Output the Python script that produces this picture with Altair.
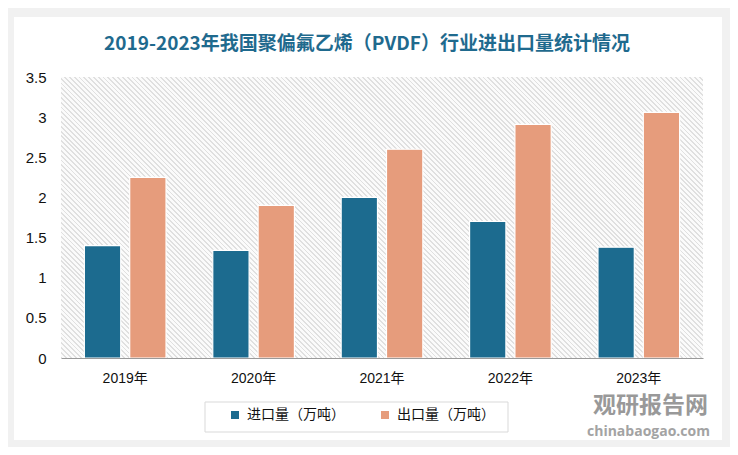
import altair as alt
import pandas as pd
import math

# ---- data ----
years = ["2019年", "2020年", "2021年", "2022年", "2023年"]
series = ["进口量（万吨）", "出口量（万吨）"]
imports = [1.40, 1.34, 2.00, 1.70, 1.38]
exports = [2.25, 1.90, 2.60, 2.91, 3.06]
title_text = "2019-2023年我国聚偏氟乙烯（PVDF）行业进出口量统计情况"
y_ticks = [0, 0.5, 1, 1.5, 2, 2.5, 3, 3.5]
colors = ["#1c6b8f", "#e69c7c"]

rows = []
for i, yr in enumerate(years):
    rows.append({"year": yr, "series": series[0], "value": imports[i]})
    rows.append({"year": yr, "series": series[1], "value": exports[i]})
df = pd.DataFrame(rows)

W, H = 642, 281
FONT = "Liberation Sans, Noto Sans CJK SC"

# hatched background via a striped linear gradient
r = H / W
k = (1 + r) / (1 + r * r)
L = (W + H) / math.sqrt(2)
period = 3.4
n = int(L / period) + 1
stops = []
for j in range(n):
    a = j * period / L
    b = (j * period + 1.3) / L
    c = (j + 1) * period / L
    if a > 1:
        break
    stops.append(alt.GradientStop(offset=min(a, 1), color="#e0e0e0"))
    stops.append(alt.GradientStop(offset=min(b, 1), color="#e0e0e0"))
    stops.append(alt.GradientStop(offset=min(b, 1), color="#fbfbfb"))
    stops.append(alt.GradientStop(offset=min(c, 1), color="#fbfbfb"))
grad = alt.LinearGradient(gradient="linear", x1=0, y1=1, x2=k, y2=1 - k * r, stops=stops)

one = pd.DataFrame({"a": [0]})

card = alt.Chart(one).mark_rect(fill="white").encode(
    x=alt.value(-47), x2=alt.value(661), y=alt.value(-60), y2=alt.value(363)
)
hatch = alt.Chart(one).mark_rect(fill=grad).encode(
    x=alt.value(0), x2=alt.value(W), y=alt.value(0), y2=alt.value(H)
)
legend_box = alt.Chart(one).mark_rect(fill="white", stroke="#d9d9d9", strokeWidth=1).encode(
    x=alt.value(144), x2=alt.value(447), y=alt.value(325), y2=alt.value(355)
)

bars = alt.Chart(df).mark_bar(stroke="white", strokeWidth=1.2).encode(
    x=alt.X("year:N", sort=years, title=None,
            scale=alt.Scale(paddingInner=0.364, paddingOuter=0.182),
            axis=alt.Axis(labelAngle=0, ticks=False, domainColor="#9a9a9a", domainWidth=1.2,
                          labelFontSize=14, labelColor="#111111", labelPadding=13, labelFont=FONT,
                          zindex=1)),
    xOffset=alt.XOffset("series:N", sort=series,
                        scale=alt.Scale(paddingInner=0.1985, paddingOuter=0)),
    y=alt.Y("value:Q", title=None,
            scale=alt.Scale(domain=[0, 3.5], nice=False),
            axis=alt.Axis(values=y_ticks, format="~g", grid=False, domain=False, ticks=False,
                          labelFontSize=15, labelColor="#111111", labelPadding=15, labelFont=FONT,
                          zindex=1)),
    color=alt.Color("series:N", sort=series,
                    scale=alt.Scale(domain=series, range=colors),
                    legend=alt.Legend(title=None, orient="none", legendX=167, legendY=331,
                                      direction="horizontal", symbolType="square", symbolSize=64,
                                      symbolStrokeWidth=0, labelFontSize=14, labelFont=FONT,
                                      labelColor="#111111", columnPadding=33, padding=0, labelOffset=5,
                                      zindex=1)),
)

title = alt.Chart(pd.DataFrame({"t": [title_text]})).mark_text(
    font="Noto Sans CJK SC", fontSize=19, fontWeight="bold", color="#1f6a8e", baseline="middle", align="center"
).encode(text="t:N", x=alt.value(306), y=alt.value(-33))

wm1 = alt.Chart(pd.DataFrame({"t": ["观研报告网"]})).mark_text(
    font="Noto Sans CJK SC", fontSize=23, fontWeight="bold", color="#8f8f8f", baseline="middle", align="left", opacity=0.9
).encode(text="t:N", x=alt.value(532), y=alt.value(329))
wm2 = alt.Chart(pd.DataFrame({"t": ["chinabaogao.com"]})).mark_text(
    font="Open Sans", fontSize=14, fontWeight="bold", color="#9a9a9a", baseline="middle", align="left", opacity=0.9
).encode(text="t:N", x=alt.value(526), y=alt.value(355))

chart = alt.layer(card, hatch, legend_box, bars, title, wm1, wm2).properties(
    width=W, height=H,
    autosize=alt.AutoSizeParams(type="none"),
    padding={"left": 53, "top": 69, "right": 27, "bottom": 89},
    background="#f1f1f1",
).configure_view(stroke=None)

chart.save("out.html", embed_options={"renderer": "svg", "actions": False})
